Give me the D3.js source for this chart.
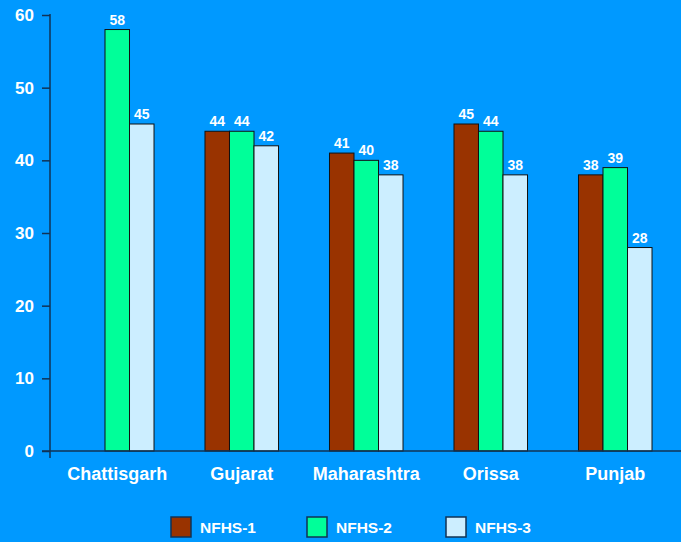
<!DOCTYPE html>
<html>
<head>
<meta charset="utf-8">
<script src="https://cdn.jsdelivr.net/npm/d3@7"></script>
<style>
  body { margin: 0; background: #0099ff; }
  svg { display: block; font-family: "Liberation Sans", Arial, sans-serif; font-weight: bold; }
</style>
</head>
<body>
<svg id="chart" width="681" height="542"></svg>
<script>
const states = ["Chattisgarh", "Gujarat", "Maharashtra", "Orissa", "Punjab"];
const series = ["NFHS-1", "NFHS-2", "NFHS-3"];
const nfhs1 = [null, 44, 41, 45, 38];
const nfhs2 = [58, 44, 40, 44, 39];
const nfhs3 = [45, 42, 38, 38, 28];
const yTicks = [0, 10, 20, 30, 40, 50, 60];

const colors = { "NFHS-1": "#993300", "NFHS-2": "#00ff99", "NFHS-3": "#cceeff" };
const values = { "NFHS-1": nfhs1, "NFHS-2": nfhs2, "NFHS-3": nfhs3 };

const svg = d3.select("#chart");
const plotLeft = 50, plotRight = 681, plotTop = 15, plotBottom = 451;

const x0 = d3.scaleBand().domain(states).range([55, 677.5]).padding(0);
const x1 = d3.scaleBand().domain(series).range([0, x0.bandwidth()])
  .paddingInner(0).paddingOuter(1.04);
const y = d3.scaleLinear().domain([0, 60]).range([plotBottom, plotTop]);

svg.append("rect").attr("width", 681).attr("height", 542).attr("fill", "#0099ff");

// bars
const data = [];
states.forEach((s, i) => {
  series.forEach((k) => {
    if (values[k][i] != null) data.push({ state: s, key: k, value: values[k][i] });
  });
});

svg.append("g")
  .selectAll("rect")
  .data(data)
  .enter()
  .append("rect")
  .attr("x", (d) => x0(d.state) + x1(d.key))
  .attr("y", (d) => y(d.value))
  .attr("width", x1.bandwidth())
  .attr("height", (d) => y(0) - y(d.value))
  .attr("fill", (d) => colors[d.key])
  .attr("stroke", "#111")
  .attr("stroke-width", 1);

svg.append("g")
  .selectAll("text")
  .data(data)
  .enter()
  .append("text")
  .attr("x", (d) => x0(d.state) + x1(d.key) + x1.bandwidth() / 2)
  .attr("y", (d) => y(d.value) - 5)
  .attr("text-anchor", "middle")
  .attr("font-size", 14)
  .attr("fill", "white")
  .text((d) => d.value);

// y axis
const yAxis = svg.append("g")
  .attr("transform", `translate(${plotLeft},0)`)
  .call(d3.axisLeft(y).tickValues(yTicks).tickSize(8).tickPadding(8).tickSizeOuter(0));
yAxis.select(".domain").attr("stroke", "#113355").attr("stroke-width", 1.5)
  .attr("d", `M0,${plotTop - 1}V${plotBottom + 7}`);
yAxis.selectAll(".tick line").attr("stroke", "#113355").attr("stroke-width", 1.5);
yAxis.selectAll(".tick text")
  .attr("fill", "white")
  .attr("font-size", 17)
  .attr("font-weight", "bold")
  .attr("font-family", "Liberation Sans, Arial, sans-serif");

// x axis line
svg.append("line")
  .attr("x1", plotLeft - 8).attr("x2", plotRight)
  .attr("y1", y(0)).attr("y2", y(0))
  .attr("stroke", "#113355").attr("stroke-width", 1.5);

// category labels
svg.append("g")
  .selectAll("text")
  .data(states)
  .enter()
  .append("text")
  .attr("x", (d) => x0(d) + x0.bandwidth() / 2)
  .attr("y", 480)
  .attr("text-anchor", "middle")
  .attr("font-size", 18)
  .attr("fill", "white")
  .text((d) => d);

// legend
const legendX = [171, 307, 446];
const legend = svg.append("g")
  .selectAll("g")
  .data(series)
  .enter()
  .append("g")
  .attr("transform", (d, i) => `translate(${legendX[i]},517)`);

legend.append("rect")
  .attr("width", 20).attr("height", 20)
  .attr("fill", (d) => colors[d])
  .attr("stroke", "#113355").attr("stroke-width", 1.5);

legend.append("text")
  .attr("x", 29).attr("y", 16)
  .attr("font-size", 15.5)
  .attr("fill", "white")
  .text((d) => d);
</script>
</body>
</html>
